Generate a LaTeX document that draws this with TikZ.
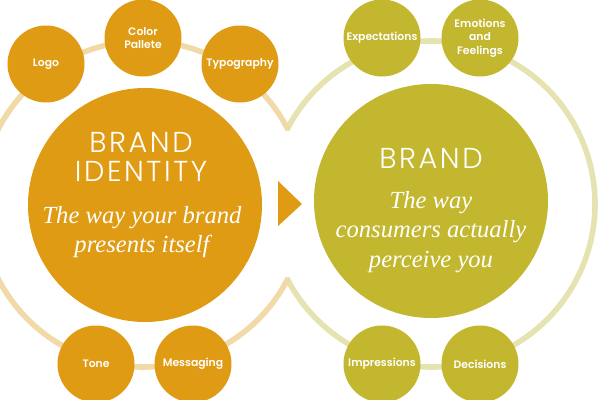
\documentclass[tikz,border=0pt]{standalone}
\usepackage{fontspec}
\usepackage{xcolor}
\usepackage{tikz}
\usetikzlibrary{calc}
\setmainfont{Poppins}
\newfontfamily\titlefont[LetterSpace=9]{Poppins Light}
\newfontfamily\labelfont{Poppins SemiBold}
\newfontfamily\quotefont{Liberation Serif Italic}
\definecolor{idcol}{HTML}{E09B14}
\definecolor{brcol}{HTML}{C2B72F}
\definecolor{idring}{HTML}{F2DAA8}
\definecolor{brring}{HTML}{E6E3B2}

\begin{document}
\begin{tikzpicture}[x=0.25mm, y=-0.25mm,
    ring/.style={line width=1.4mm},
    bigdisc/.style={circle,fill=#1,minimum size=58.5mm,inner sep=0pt},
    smalldisc/.style={circle,fill=#1,minimum size=19.25mm,inner sep=0pt,
      align=center,text=white,font=\labelfont\fontsize{7.7}{9.6}\selectfont},
    headline/.style={text=white,align=center,font=\titlefont\fontsize{20.5}{20.6}\selectfont},
    quotetext/.style={text=white,align=center,font=\quotefont\fontsize{17.5}{21}\selectfont}]

\useasboundingbox (0,0) rectangle (600,400);
\clip (0,0) rectangle (600,400);

\coordinate (idcentre) at (143,204);
\coordinate (brcentre) at (432,204);

% rings, each one stops where they cross
\draw[ring,brring] (brcentre) ++(-153:163) arc (-153:153:163);
\draw[ring,idring] (idcentre) ++(27:163) arc (27:333:163);

% big discs
\node[bigdisc=idcol] (identity) at (145,205) {};
\node[bigdisc=brcol] (brand) at (431,201) {};

% small discs
\foreach \name/\x/\y/\txt in {logo/46/64/Logo,
                              colour/143/38/{Color\\Pallete},
                              typo/240/64/Typography,
                              tone/96/364/Tone,
                              messaging/193/364/Messaging} {
    \node[smalldisc=idcol] (\name) at (\x,\y) {\txt};
}
\foreach \name/\x/\y/\txt in {expect/382/38/Expectations,
                              emotions/480/38/{Emotions\\and\\Feelings},
                              impress/382/364/Impressions,
                              decisions/480/364/Decisions} {
    \node[smalldisc=brcol] (\name) at (\x,\y) {\txt};
}

% texts in the big discs
\node[headline] (idhead) at (141,157) {BRAND\\IDENTITY};
\node[quotetext] (idquote) at (142,232) {The way your brand\\presents itself};
\node[headline] (brhead) at (431,158) {BRAND};
\node[quotetext] (brquote) at (431,232) {The way\\consumers actually\\perceive you};

% arrow
\fill[idcol] (278,181) -- (302,204) -- (278,226) -- cycle;

\end{tikzpicture}
\end{document}
